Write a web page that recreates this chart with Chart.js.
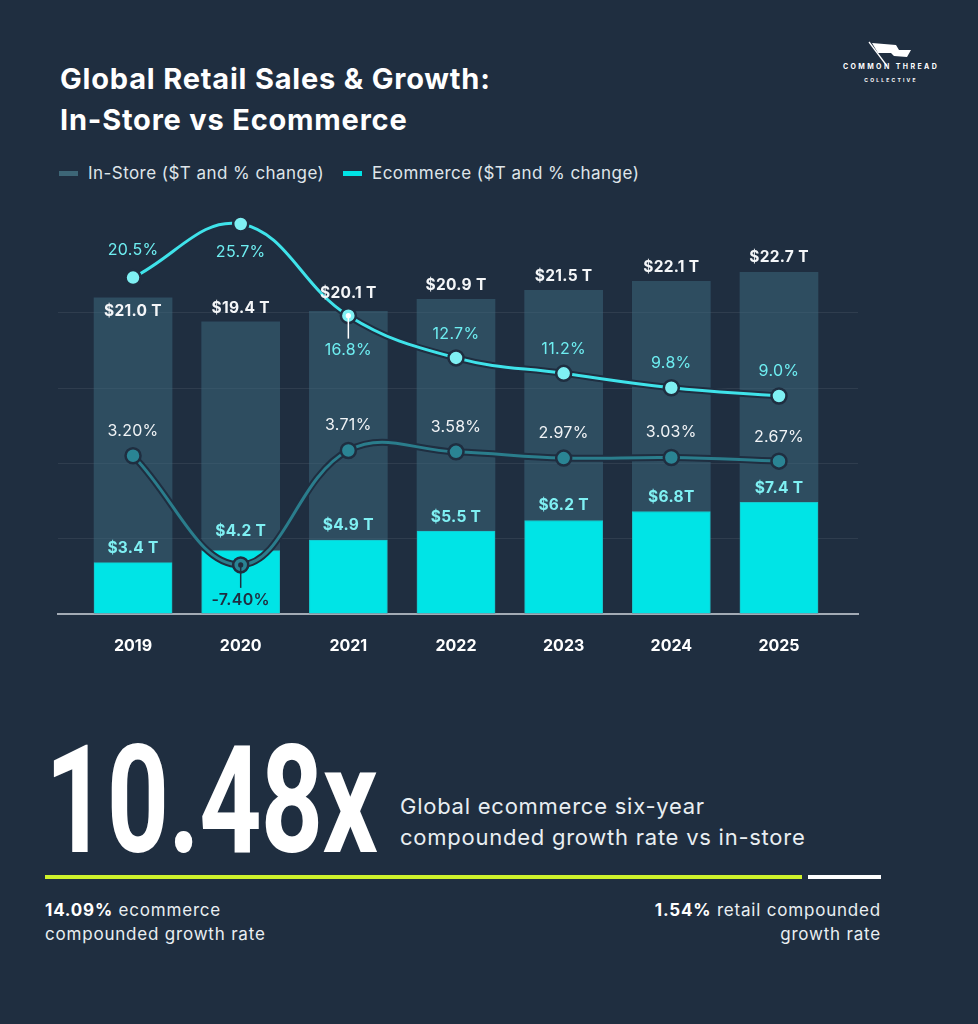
<!DOCTYPE html>
<html>
<head>
<meta charset="utf-8">
<script src="https://cdn.jsdelivr.net/npm/chart.js@4.4.1/dist/chart.umd.min.js"></script>
<style>
  html, body { margin: 0; padding: 0; }
  body { width: 978px; height: 1024px; background: #1f2e40; position: relative; overflow: hidden;
         font-family: Inter, "Open Sans", sans-serif; color: #fff; }
  .abs { position: absolute; }
  #title { left: 60px; top: 58px; font-size: 29px; font-weight: 700; line-height: 41px; letter-spacing: 0.8px; white-space: nowrap; }
  .leg { top: 162px; height: 22px; display: flex; align-items: center; font-size: 17px; letter-spacing: 0.45px; color: #dfe5ea; white-space: nowrap; }
  .sw { width: 19px; height: 5px; margin-right: 10px; }
  #chartWrap { left: 0; top: 190px; width: 978px; height: 505px; }
  #big { left: 45px; top: 726px; font-family: Roboto, sans-serif; font-weight: 700; font-size: 150px; line-height: 1;
         transform: scaleX(0.725); transform-origin: 0 0; white-space: nowrap; letter-spacing: -1px; }
  #sub { left: 400px; top: 791px; font-size: 22px; line-height: 31px; letter-spacing: 0.75px; color: #e9eef2; font-weight: 400; white-space: nowrap; }
  #lime { left: 45px; top: 875px; width: 757px; height: 4px; background: #cff22b; }
  #white { left: 808px; top: 875px; width: 73px; height: 4px; background: #ffffff; }
  #leftNote { left: 45px; top: 898px; font-size: 17px; line-height: 24px; letter-spacing: 0.8px; color: #e9eef2; white-space: nowrap; }
  #rightNote { right: 97px; top: 898px; font-size: 17px; line-height: 24px; letter-spacing: 0.8px; color: #e9eef2; text-align: right; white-space: nowrap; }
  b { font-weight: 700; color: #fff; }
  #logo { left: 836px; top: 37px; width: 110px; text-align: center; color: #fff; }
  #logo .l1 { position: absolute; left: 0; top: 25px; width: 110px; font-size: 7px; font-weight: 700; letter-spacing: 2.4px; }
  #logo .l2 { position: absolute; left: 0; top: 40px; width: 110px; font-size: 5px; font-weight: 700; letter-spacing: 2.2px; }
</style>
</head>
<body>
<div id="title" class="abs">Global Retail Sales &amp; Growth:<br>In-Store vs Ecommerce</div>

<div id="logo" class="abs">
  <svg width="110" height="30" viewBox="0 0 110 30" style="position:absolute;left:0;top:0">
    <line x1="33" y1="5" x2="51" y2="29" stroke="#ffffff" stroke-width="1.3"/>
    <polygon points="36,6 60,8 63,13 75,13 71,20 58,19 55,16 42,16" fill="#ffffff"/>
  </svg>
  <div class="l1">COMMON THREAD</div>
  <div class="l2">COLLECTIVE</div>
</div>

<div class="abs leg" style="left:59px"><div class="sw" style="background:#3d6677"></div>In-Store ($T and % change)</div>
<div class="abs leg" style="left:343px"><div class="sw" style="background:#00e3e6"></div>Ecommerce ($T and % change)</div>

<div id="chartWrap" class="abs"><canvas id="c" width="978" height="505"></canvas></div>

<div id="big" class="abs">10.48x</div>
<div id="sub" class="abs">Global ecommerce six-year<br>compounded growth rate vs in-store</div>
<div id="lime" class="abs"></div>
<div id="white" class="abs"></div>
<div id="leftNote" class="abs"><b>14.09%</b> ecommerce<br>compounded growth rate</div>
<div id="rightNote" class="abs"><b>1.54%</b> retail compounded<br>growth rate</div>

<script>
// ---------------- DATA ----------------
const years = [2019, 2020, 2021, 2022, 2023, 2024, 2025];
const inStoreSales = [21.0, 19.4, 20.1, 20.9, 21.5, 22.1, 22.7];            // $T
const ecommerceSales = [3.4, 4.2, 4.9, 5.5, 6.2, 6.8, 7.4];                   // $T
const inStoreGrowth = [3.20, -7.40, 3.71, 3.58, 2.97, 3.03, 2.67];            // %
const ecommerceGrowth = [20.5, 25.7, 16.8, 12.7, 11.2, 9.8, 9.0];             // %
const inStoreSalesLabels = ['$21.0 T', '$19.4 T', '$20.1 T', '$20.9 T', '$21.5 T', '$22.1 T', '$22.7 T'];
const ecommerceSalesLabels = ['$3.4 T', '$4.2 T', '$4.9 T', '$5.5 T', '$6.2 T', '$6.8T', '$7.4 T'];
const inStoreGrowthLabels = ['3.20%', '-7.40%', '3.71%', '3.58%', '2.97%', '3.03%', '2.67%'];
const ecommerceGrowthLabels = ['20.5%', '25.7%', '16.8%', '12.7%', '11.2%', '9.8%', '9.0%'];

// ---------------- STYLE ----------------
const BG = '#1f2e40';
const FONT = 'Inter, "Open Sans", sans-serif';

// label placement relative to each element (px, negative = above)
const labelLayout = {
  inStoreSales:     { dy: [14, -14, -18, -14, -14, -14, -15] },
  ecommerceSales:   { dy: [-14, -19, -15, -14, -15, -14, -14] },
  ecommerceGrowth:  { dy: [-27, 28, 35, -24, -24, -25, -25], leader: 2 },
  inStoreGrowth:    { dy: [-25, 35, -25, -25, -25, -25, -24], leader: 1 }
};

const labelPlugin = {
  id: 'valueLabels',
  afterDatasetsDraw(chart) {
    const ctx = chart.ctx;
    const byKey = {};
    chart.data.datasets.forEach((d, i) => { if (d.key) byKey[d.key] = chart.getDatasetMeta(i); });
    ctx.save();
    ctx.textAlign = 'center';
    ctx.textBaseline = 'middle';
    function drawSet(key, texts, font, color, special) {
      const meta = byKey[key];
      const lay = labelLayout[key];
      meta.data.forEach((el, i) => {
        const x = el.x, y = el.y;
        const isLeader = lay.leader === i;
        if (isLeader) {
          const c = special ? special.line : '#fff';
          ctx.strokeStyle = c; ctx.fillStyle = c; ctx.lineWidth = 1.5;
          ctx.beginPath(); ctx.moveTo(x, y); ctx.lineTo(x, y + lay.dy[i] - 12); ctx.stroke();
          ctx.beginPath(); ctx.arc(x, y, 2.6, 0, Math.PI * 2); ctx.fill();
        }
        ctx.font = (special && isLeader) ? special.font : font;
        ctx.fillStyle = (special && isLeader) ? special.text : color;
        ctx.fillText(texts[i], x, y + lay.dy[i]);
      });
    }
    ctx.letterSpacing = '0.3px';
    drawSet('inStoreSales', inStoreSalesLabels, '700 15.5px ' + FONT, '#f4f6f8');
    drawSet('ecommerceSales', ecommerceSalesLabels, '700 15.5px ' + FONT, '#7ff0f3');
    drawSet('ecommerceGrowth', ecommerceGrowthLabels, '400 16px ' + FONT, '#6eeef1');
    drawSet('inStoreGrowth', inStoreGrowthLabels, '400 16px ' + FONT, '#f1f4f6',
            { line: BG, text: BG, font: '600 16px ' + FONT });
    ctx.restore();
  }
};

const lineCommon = { type: 'line', yAxisID: 'y2', tension: 0.4, fill: false, cubicInterpolationMode: 'default' };

new Chart(document.getElementById('c'), {
  data: {
    labels: years,
    datasets: [
      { key: 'inStoreSales', type: 'bar', label: 'In-Store ($T)', data: inStoreSales, yAxisID: 'y',
        backgroundColor: 'rgba(61,106,126,0.52)', barThickness: 78, grouped: false, order: 10 },
      { key: 'ecommerceSales', type: 'bar', label: 'Ecommerce ($T)', data: ecommerceSales, yAxisID: 'y',
        backgroundColor: '#00e4e6', borderColor: '#17c6cc', borderWidth: 1, barThickness: 78, grouped: false, order: 9 },
      Object.assign({}, lineCommon, { key: 'inStoreOutline', label: 'outline', data: inStoreGrowth,
        borderColor: BG, borderWidth: 7, pointRadius: 0, order: 6 }),
      Object.assign({}, lineCommon, { key: 'ecommerceOutline', label: 'outline', data: ecommerceGrowth,
        borderColor: BG, borderWidth: 7, pointRadius: 0, order: 5 }),
      Object.assign({}, lineCommon, { key: 'inStoreGrowth', label: 'In-Store % change', data: inStoreGrowth,
        borderColor: '#2a7d8c', borderWidth: 3, pointRadius: 7.5, pointBorderWidth: 2.5,
        pointBackgroundColor: '#2a8494', pointBorderColor: BG, order: 2 }),
      Object.assign({}, lineCommon, { key: 'ecommerceGrowth', label: 'Ecommerce % change', data: ecommerceGrowth,
        borderColor: '#3fe3ea', borderWidth: 3, pointRadius: 7.5, pointBorderWidth: 2.5,
        pointBackgroundColor: '#7ff0f3', pointBorderColor: BG, order: 1 })
    ]
  },
  options: {
    responsive: false,
    animation: false,
    events: [],
    layout: { padding: { top: 6, left: 58, right: 120, bottom: 16 } },
    plugins: { legend: { display: false }, tooltip: { enabled: false } },
    scales: {
      x: {
        type: 'linear', min: 2018.303, max: 2025.734, offset: false,
        grid: { display: false, drawTicks: false },
        border: { display: true, color: '#a3abb5', width: 2 },
        afterBuildTicks: (s) => { s.ticks = years.map(v => ({ value: v })); },
        ticks: { padding: 23, color: '#ffffff', font: { family: FONT, size: 16, weight: '700' },
                 callback: (v) => String(v), maxRotation: 0, autoSkip: false }
      },
      y: {
        position: 'left', min: 0, max: 27.5,
        ticks: { display: false, stepSize: 5 },
        border: { display: false },
        grid: { drawTicks: false,
                color: (c) => (c.tick && c.tick.value > 0 && c.tick.value <= 20) ? 'rgba(255,255,255,0.075)' : 'rgba(0,0,0,0)' }
      },
      y2: { display: false, min: -12.15, max: 28.03 }
    }
  },
  plugins: [labelPlugin]
});
</script>
</body>
</html>
